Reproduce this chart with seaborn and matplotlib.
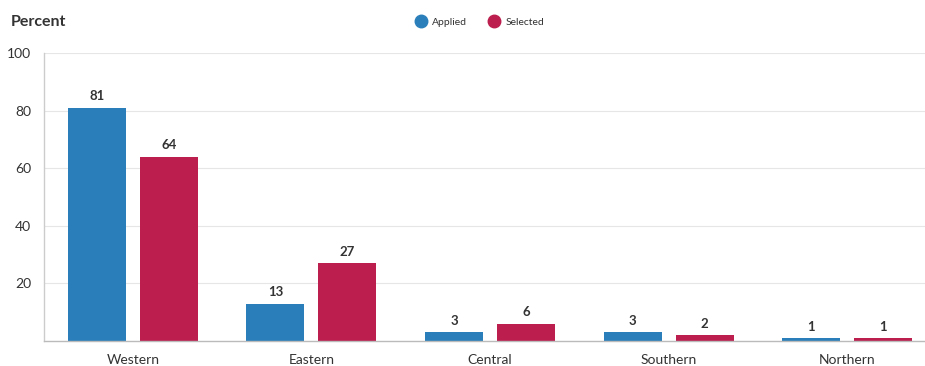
import matplotlib
matplotlib.use("Agg")
import matplotlib.pyplot as plt
from matplotlib.lines import Line2D
import seaborn as sns
import pandas as pd

regions = ["Western", "Eastern", "Central", "Southern", "Northern"]
applied = [81, 13, 3, 3, 1]
selected = [64, 27, 6, 2, 1]
series_names = ["Applied", "Selected"]
y_ticks = [20, 40, 60, 80, 100]

colors = {"Applied": "#2a7fba", "Selected": "#bc1e4e"}

df = pd.DataFrame({
    "Region": regions * 2,
    "Group": [series_names[0]] * len(regions) + [series_names[1]] * len(regions),
    "Percent": applied + selected,
})

sns.set_theme(style="white")
plt.rcParams["font.family"] = ["Lato", "DejaVu Sans"]

fig = plt.figure(figsize=(9.25, 3.66), dpi=100)
# plot area runs slightly past the right edge of the canvas
ax = fig.add_axes([43.5 / 925, 1 - 341 / 366, 893 / 925, (341 - 53) / 366])

sns.barplot(data=df, x="Region", y="Percent", hue="Group", order=regions,
            hue_order=series_names, palette=colors, width=0.806, gap=0.194,
            saturation=1, legend=False, ax=ax, linewidth=0)

ax.set_ylim(0, 100)
ax.set_xlim(-0.5, len(regions) - 0.5)
ax.set_yticks(y_ticks)
ax.set_yticklabels([str(t) for t in y_ticks], fontsize=10, color="#333333")
ax.tick_params(axis="y", length=0, pad=9)
ax.tick_params(axis="x", length=0, pad=9.5, labelsize=10, labelcolor="#333333")
ax.set_xlabel("")
ax.set_ylabel("")
ax.grid(axis="y", color="#e6e6e6", linewidth=0.8)
ax.set_axisbelow(True)
for side in ["top", "right"]:
    ax.spines[side].set_visible(False)
ax.spines["left"].set_color("#cccccc")
ax.spines["bottom"].set_color("#bbbbbb")
ax.spines["left"].set_linewidth(1)
ax.spines["bottom"].set_linewidth(1)

for container in ax.containers:
    ax.bar_label(container, fmt="%d", padding=4, fontsize=9.5,
                 fontweight="bold", color="#333333")

fig.text(11 / 925, 1 - 22 / 366, "Percent", fontsize=11.5, fontweight="bold",
         color="#333333", va="center", ha="left")

handles = [Line2D([0], [0], marker="o", linestyle="", markersize=9,
                  markerfacecolor=colors[n], markeredgecolor=colors[n])
           for n in series_names]
fig.legend(handles, series_names, loc="center", bbox_to_anchor=(0.516, 1 - 22 / 366),
           ncol=2, frameon=False, fontsize=7.5, handletextpad=0.1,
           columnspacing=1.6, labelcolor="#333333")

fig.savefig("out.png", dpi=100)
